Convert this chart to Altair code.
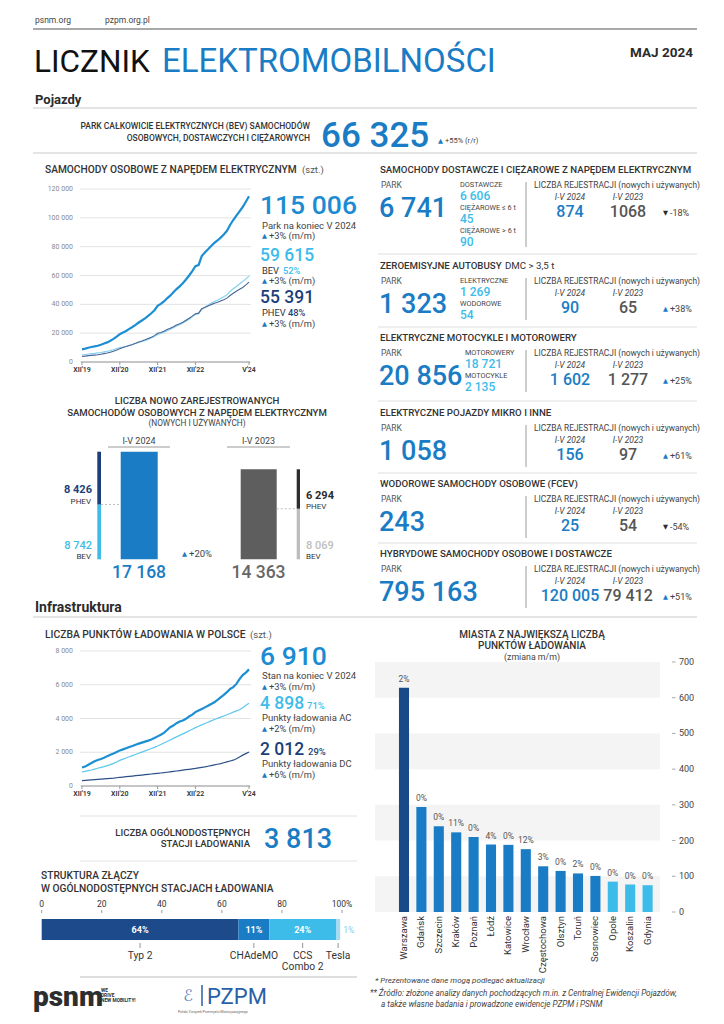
import altair as alt
import pandas as pd

# ---------------- DATA ----------------
ev_total = [8800,
            9300, 9900, 10400, 10800, 11300, 12000, 12800, 13600, 14700, 16000, 17600, 19300,
            20400, 21500, 23000, 24300, 25800, 27400, 28800, 30300, 32000, 33800, 35900, 38900,
            40300, 42000, 44200, 46000, 48300, 50600, 52500, 54600, 57200, 60000, 63100, 66500,
            67200, 73500, 76000, 78200, 80500, 82600, 84300, 86300, 88500, 91000, 95000, 98500,
            101500, 104500, 107500, 111200, 115006]
ev_bev = [4900,
          5200, 5500, 5800, 6000, 6300, 6600, 7000, 7400, 7900, 8500, 9300, 10100,
          10300, 10800, 11500, 12100, 12800, 13500, 14200, 14900, 15700, 16600, 17600, 19000,
          19800, 20600, 21700, 22600, 23800, 24900, 25900, 27000, 28300, 29700, 31300, 33000,
          33300, 36600, 38200, 39400, 40700, 41900, 42900, 44000, 45300, 46700, 48900, 50800,
          52400, 54100, 55800, 57700, 59615]
ev_phev = [3900,
           4100, 4400, 4600, 4800, 5000, 5400, 5800, 6200, 6800, 7500, 8300, 9200,
           10100, 10700, 11500, 12200, 13000, 13900, 14600, 15400, 16300, 17200, 18300, 19900,
           20500, 21400, 22500, 23400, 24500, 25700, 26600, 27600, 28900, 30300, 31800, 33500,
           33900, 36900, 37800, 38800, 39800, 40700, 41400, 42300, 43200, 44300, 46100, 47700,
           49100, 50400, 51700, 53500, 55391]
ev_ticks = [0, 20000, 40000, 60000, 80000, 100000, 120000]
month_tick_pos = [0, 12, 24, 36, 53]
month_tick_labels = ["XII'19", "XII'20", "XII'21", "XII'22", "V'24"]

cp_total = [1100,
            1150, 1260, 1360, 1460, 1540, 1600, 1670, 1770, 1850, 1920, 2010, 2110,
            2170, 2240, 2310, 2370, 2440, 2510, 2570, 2630, 2690, 2760, 2840, 2940,
            3040, 3150, 3320, 3480, 3580, 3720, 3820, 3880, 3980, 4120, 4230, 4380,
            4470, 4560, 4660, 4760, 4860, 4960, 5100, 5250, 5400, 5560, 5750, 5860,
            6050, 6330, 6570, 6720, 6910]
cp_ac = [830,
         870, 910, 950, 1000, 1050, 1100, 1150, 1210, 1270, 1340, 1420, 1520,
         1590, 1660, 1730, 1800, 1870, 1940, 2010, 2080, 2150, 2220, 2290, 2370,
         2460, 2550, 2640, 2730, 2820, 2910, 3000, 3090, 3180, 3270, 3360, 3460,
         3540, 3620, 3700, 3780, 3860, 3940, 4010, 4080, 4150, 4220, 4300, 4380,
         4450, 4520, 4640, 4780, 4898]
cp_dc = [320,
         335, 350, 365, 380, 395, 410, 425, 440, 455, 470, 490, 510,
         530, 550, 570, 590, 610, 630, 650, 670, 690, 710, 730, 750,
         770, 790, 815, 840, 865, 890, 915, 940, 965, 990, 1015, 1040,
         1070, 1100, 1130, 1170, 1210, 1250, 1290, 1330, 1380, 1430, 1480, 1530,
         1610, 1720, 1830, 1920, 2012]
cp_ticks = [0, 2000, 4000, 6000, 8000]

reg_years = ["I-V 2024", "I-V 2023"]
reg_bev = [8742, 8069]
reg_phev = [8426, 6294]
reg_total = [17168, 14363]
reg_growth = "+20%"

cities = ["Warszawa", "Gdańsk", "Szczecin", "Kraków", "Poznań", "Łódź", "Katowice",
          "Wrocław", "Częstochowa", "Olsztyn", "Toruń", "Sosnowiec", "Opole", "Koszalin", "Gdynia"]
city_points = [628, 294, 240, 223, 210, 189, 188, 176, 128, 115, 108, 101, 85, 77, 75]
city_change = ["2%", "0%", "0%", "11%", "0%", "4%", "0%", "12%", "3%", "0%", "2%", "0%", "0%", "0%", "0%"]
city_ticks = [0, 100, 200, 300, 400, 500, 600, 700]

conn_names = ["Typ 2", "CHAdeMO", "CCS\nCombo 2", "Tesla"]
conn_share = [65.5, 10.3, 22.2, 1.4]
conn_labels = ["64%", "11%", "24%", "1%"]
conn_ticks = [0, 20, 40, 60, 80, 100]
conn_tick_labels = ["0", "20", "40", "60", "80", "100%"]

bev_park = "66 325"
bev_park_change = "+55% (r/r)"
ev_shares = ["52%", "48%"]
ev_changes = ["+3% (m/m)", "+3% (m/m)", "+3% (m/m)"]
cp_shares = ["71%", "29%"]
cp_changes = ["+3% (m/m)", "+2% (m/m)", "+6% (m/m)"]
public_stations = "3 813"

sec_titles = ["SAMOCHODY DOSTAWCZE I CIĘŻAROWE Z NAPĘDEM ELEKTRYCZNYM", "ZEROEMISYJNE AUTOBUSY",
              "ELEKTRYCZNE MOTOCYKLE I MOTOROWERY", "ELEKTRYCZNE POJAZDY MIKRO I INNE",
              "WODOROWE SAMOCHODY OSOBOWE (FCEV)", "HYBRYDOWE SAMOCHODY OSOBOWE I DOSTAWCZE"]
sec_park = ["6 741", "1 323", "20 856", "1 058", "243", "795 163"]
sec_sub = [[("DOSTAWCZE", "6 606"), ("CIĘŻAROWE ≤ 6 t", "45"), ("CIĘŻAROWE > 6 t", "90")],
           [("ELEKTRYCZNE", "1 269"), ("WODOROWE", "54")],
           [("MOTOROWERY", "18 721"), ("MOTOCYKLE", "2 135")], [], [], []]
reg_2024 = ["874", "90", "1 602", "156", "25", "120 005"]
reg_2023 = ["1068", "65", "1 277", "97", "54", "79 412"]
reg_chg = ["-18%", "+38%", "+25%", "+61%", "-54%", "+51%"]

# ---------------- STYLE / LAYOUT ----------------
OFF = 8
W, H = 708, 1008
F = "Roboto"
BLUE = "#1a7cc4"
BLUE2 = "#1c8bd2"
CYAN = "#3dbcea"
NAVY = "#1c3f7a"
DARK = "#2b2b2b"
LG = "#c9c9c9"

ONE = pd.DataFrame({"k": [0]})
L = []


def px(v):
    return v - OFF


def fmt(n):
    return f"{n:,}".replace(",", " ")


def txt(s, x, y, size=9, color=DARK, weight=400, align="left", baseline="middle", style=None, font=F):
    kw = dict(text=s, fontSize=size, color=color, fontWeight=weight, align=align,
              baseline=baseline, font=font)
    if style:
        kw["fontStyle"] = style
    L.append(alt.Chart(ONE).mark_text(**kw).encode(x=alt.value(px(x)), y=alt.value(px(y))))


def rule(x1, x2, y1, y2=None, color=LG, width=1.0, dash=None):
    kw = dict(color=color, strokeWidth=width)
    if dash:
        kw["strokeDash"] = dash
    L.append(alt.Chart(ONE).mark_rule(**kw).encode(
        x=alt.value(px(x1)), x2=alt.value(px(x2)),
        y=alt.value(px(y1)), y2=alt.value(px(y1 if y2 is None else y2))))


def change(s, x, y, size=8.5):
    up = s.startswith("+")
    txt("▲" if up else "▼", x, y, size=6.5, color=BLUE if up else DARK, font="DejaVu Sans")
    txt(s, x + 7, y, size=size, color="#444")


def line_panel(series, colors, widths, ydom, y0, y1, ticks):
    n = len(series[0])
    df = pd.DataFrame({"m": list(range(n))})
    for i, s in enumerate(series):
        df[f"s{i}"] = s
    xs = alt.Scale(domain=[0, n - 1], range=[px(82), px(249)], nice=False, zero=False)
    ys = alt.Scale(domain=ydom, range=[px(y0), px(y1)], nice=False, zero=True)
    tdf = pd.DataFrame({"t": ticks, "lab": [fmt(t) for t in ticks]})
    xdf = pd.DataFrame({"m": month_tick_pos, "lab": month_tick_labels})
    layers = [
        alt.Chart(tdf).mark_rule(color="#e3e3e3", strokeWidth=1).encode(
            y=alt.Y("t:Q", scale=ys, axis=None), x=alt.value(px(80)), x2=alt.value(px(251))),
        alt.Chart(tdf).mark_text(align="right", baseline="middle", fontSize=7, color="#8a8a8a", font=F).encode(
            y=alt.Y("t:Q", scale=ys, axis=None), x=alt.value(px(73)), text="lab:N"),
        alt.Chart(ONE).mark_rule(color="#9a9a9a", strokeWidth=1).encode(
            x=alt.value(px(81)), x2=alt.value(px(250)), y=alt.value(px(y0))),
        alt.Chart(xdf).mark_rule(color="#9a9a9a", strokeWidth=1).encode(
            x=alt.X("m:Q", scale=xs, axis=None), y=alt.value(px(y0)), y2=alt.value(px(y0 + 3))),
        alt.Chart(xdf).mark_text(baseline="top", fontSize=7, fontWeight=600, color="#333", font=F).encode(
            x=alt.X("m:Q", scale=xs, axis=None), y=alt.value(px(y0 + 4)), text="lab:N"),
    ]
    for i, (c, w) in enumerate(zip(colors, widths)):
        layers.append(alt.Chart(df).mark_line(color=c, strokeWidth=w).encode(
            x=alt.X("m:Q", scale=xs, axis=None),
            y=alt.Y(f"s{i}:Q", scale=ys, axis=None)))
    return alt.layer(*layers)


# ---------------- HEADER ----------------
txt("psnm.org", 35, 20, size=8.5, color="#444")
txt("pzpm.org.pl", 105, 20, size=8.5, color="#444")
rule(33, 697, 29, color="#555", width=1.2)
txt("LICZNIK", 34, 72, size=31.5, color="#111", weight=400, baseline="alphabetic")
txt("ELEKTROMOBILNOŚCI", 162, 72, size=33, color=BLUE, weight=400, baseline="alphabetic")
txt("MAJ 2024", 693, 53, size=13.5, color=DARK, weight=700, align="right")
txt("Pojazdy", 35, 100, size=13, color=DARK, weight=700)
rule(33, 697, 108)
txt("PARK CAŁKOWICIE ELEKTRYCZNYCH (BEV) SAMOCHODÓW", 310, 126, size=8.5, color="#333", weight=500, align="right")
txt("OSOBOWYCH, DOSTAWCZYCH I CIĘŻAROWYCH", 310, 138, size=8.5, color="#333", weight=500, align="right")
txt(bev_park, 321, 147, size=35, color=BLUE, weight=500, baseline="alphabetic")
change(bev_park_change, 438, 141, size=7.5)
rule(33, 697, 153)

# ---------------- PASSENGER EV LINE CHART ----------------
txt("SAMOCHODY OSOBOWE Z NAPĘDEM ELEKTRYCZNYM", 45, 170, size=10.2, color="#333", weight=500)
txt("(szt.)", 302, 170, size=9.5, color="#555")
L.append(line_panel([ev_bev, ev_phev, ev_total], ["#7fd0f0", "#4a6596", "#1c8fd3"], [1.1, 1.1, 2.2],
                    [0, 120000], 362, 189, ev_ticks))
txt(fmt(ev_total[-1]), 260, 214, size=26.5, color=BLUE2, weight=500, baseline="alphabetic")
txt("Park na koniec V 2024", 262, 225.5, size=9.5, color="#444")
change(ev_changes[0], 262, 236, size=9.3)
txt(fmt(ev_bev[-1]), 260, 261, size=17.5, color=CYAN, weight=500, baseline="alphabetic")
txt("BEV", 262, 270.5, size=9.3, color="#333")
txt(ev_shares[0], 283, 270.5, size=9.3, color=CYAN, weight=500)
change(ev_changes[1], 262, 281, size=9.3)
txt(fmt(ev_phev[-1]), 260, 303, size=17.5, color=NAVY, weight=500, baseline="alphabetic")
txt("PHEV", 262, 313, size=9.3, color="#333")
txt(ev_shares[1], 288, 313, size=9.3, color=NAVY, weight=500)
change(ev_changes[2], 262, 324, size=9.3)

# ---------------- NEW REGISTRATIONS ----------------
txt("LICZBA NOWO ZAREJESTROWANYCH", 197, 401, size=9.6, color="#333", weight=500, align="center")
txt("SAMOCHODÓW OSOBOWYCH Z NAPĘDEM ELEKTRYCZNYM", 197, 412.5, size=9.6, color="#333", weight=500, align="center")
txt("(NOWYCH I UŻYWANYCH)", 197, 423.5, size=8.3, color="#444", align="center")
big_x = [(120.7, 157.7), (240.7, 276.7)]
thin_x = [(97.3, 101), (296.7, 300)]
dash_x = [(101, 120.7), (276.7, 296.7)]
big_col = [BLUE, "#5e5e5e"]
bev_col = [CYAN, "#bdbdbd"]
phev_col = [NAVY, "#2d2d2d"]
head_x = [139, 258.5]
rys = alt.Scale(domain=[0, max(reg_total)], range=[px(559.3), px(451.7)], nice=False, zero=True)
reg_layers = []
for i in range(2):
    d = pd.DataFrame({"tot": [reg_total[i]], "bev": [reg_bev[i]], "top": [reg_bev[i] + reg_phev[i]], "z": [0]})
    ch = alt.Chart(d)
    reg_layers.append(ch.mark_rect(color=big_col[i]).encode(
        y=alt.Y("tot:Q", scale=rys, axis=None), y2="z:Q",
        x=alt.value(px(big_x[i][0])), x2=alt.value(px(big_x[i][1]))))
    reg_layers.append(ch.mark_rect(color=bev_col[i]).encode(
        y=alt.Y("bev:Q", scale=rys, axis=None), y2="z:Q",
        x=alt.value(px(thin_x[i][0])), x2=alt.value(px(thin_x[i][1]))))
    reg_layers.append(ch.mark_rect(color=phev_col[i]).encode(
        y=alt.Y("top:Q", scale=rys, axis=None), y2="bev:Q",
        x=alt.value(px(thin_x[i][0])), x2=alt.value(px(thin_x[i][1]))))
    reg_layers.append(ch.mark_rule(color="#b0b0b0", strokeDash=[2, 2], strokeWidth=0.8).encode(
        y=alt.Y("bev:Q", scale=rys, axis=None),
        x=alt.value(px(dash_x[i][0])), x2=alt.value(px(dash_x[i][1]))))
L.append(alt.layer(*reg_layers))
for i in range(2):
    txt(reg_years[i], head_x[i], 441, size=9, color="#444", align="center")
rule(108, 170, 447, color="#9a9a9a")
rule(227, 290, 447, color="#9a9a9a")
txt(fmt(reg_phev[0]), 92, 490, size=11, color=NAVY, weight=700, align="right")
txt("PHEV", 91, 501.5, size=8, color="#333", align="right")
txt(fmt(reg_bev[0]), 92, 545.5, size=11, color=CYAN, weight=500, align="right")
txt("BEV", 91, 556.5, size=8, color="#333", align="right")
txt(fmt(reg_phev[1]), 306, 495.5, size=11, color=DARK, weight=700)
txt("PHEV", 306, 507, size=8, color="#333")
txt(fmt(reg_bev[1]), 306, 546, size=11, color="#bdbdbd", weight=500)
txt("BEV", 306, 557, size=8, color="#333")
change(reg_growth, 182, 554, size=9.5)
txt(fmt(reg_total[0]), head_x[0], 578, size=17.5, color=BLUE, weight=500, align="center", baseline="alphabetic")
txt(fmt(reg_total[1]), head_x[1], 578, size=17.5, color="#666", weight=500, align="center", baseline="alphabetic")

# ---------------- RIGHT COLUMN SECTIONS ----------------
sec_top = [170, 266, 338, 413, 484, 554]
sec_sub_x = [460, 460, 465, 460, 460, 460]
for i, t in enumerate(sec_top):
    txt(sec_titles[i], 380, t, size=9.7, color="#333", weight=500)
    if i == 1:
        txt("DMC > 3,5 t", 505, t, size=9.7, color="#333")
    txt("PARK", 381, t + 15, size=8.5, color="#555")
    txt(sec_park[i], 379, t + 47, size=27, color=BLUE, weight=500, baseline="alphabetic")
    for j, (lab, val) in enumerate(sec_sub[i]):
        txt(lab, sec_sub_x[i], t + 15 + 23 * j, size=7.3, color="#444")
        txt(val, sec_sub_x[i], t + 26 + 23 * j, size=12, color=CYAN, weight=500)
    rule(526, 526, t + 12, t + (77 if i == 0 else 54), color="#9a9a9a")
    txt("LICZBA REJESTRACJI (nowych i używanych)", 534, t + 15, size=8.4, color="#444")
    txt("I-V 2024", 570, t + 27, size=8.5, color="#444", align="center", style="italic")
    txt("I-V 2023", 628, t + 27, size=8.5, color="#444", align="center", style="italic")
    txt(reg_2024[i], 570, t + 47, size=16, color=BLUE, weight=500, align="center", baseline="alphabetic")
    txt(reg_2023[i], 628, t + 47, size=16, color="#555", weight=500, align="center", baseline="alphabetic")
    change(reg_chg[i], 663, t + 43, size=9)
for y in [254, 327, 401, 473, 543]:
    rule(378, 697, y, color="#dedede")

# ---------------- INFRASTRUKTURA ----------------
txt("Infrastruktura", 35, 608, size=14, color=DARK, weight=700)
rule(33, 697, 617)
txt("LICZBA PUNKTÓW ŁADOWANIA W POLSCE", 45, 635, size=10.3, color="#333", weight=500)
txt("(szt.)", 250, 635, size=9.5, color="#555")
L.append(line_panel([cp_ac, cp_dc, cp_total], ["#5cc8ef", "#2c4f88", "#1c8fd3"], [1.2, 1.2, 2.2],
                    [0, 8000], 786, 651, cp_ticks))
txt(fmt(cp_total[-1]), 260, 664.5, size=26.5, color=BLUE2, weight=500, baseline="alphabetic")
txt("Stan na koniec V 2024", 262, 676, size=9.5, color="#444")
change(cp_changes[0], 262, 687, size=9.3)
txt(fmt(cp_ac[-1]), 260, 708.5, size=17.5, color=CYAN, weight=500, baseline="alphabetic")
txt(cp_shares[0], 307, 708.5, size=9.5, color=CYAN, weight=500, baseline="alphabetic")
txt("Punkty ładowania AC", 262, 718, size=9.5, color="#444")
change(cp_changes[1], 262, 728.5, size=9.3)
txt(fmt(cp_dc[-1]), 260, 754.5, size=17.5, color=NAVY, weight=500, baseline="alphabetic")
txt(cp_shares[1], 308, 754.5, size=9.5, color=NAVY, weight=500, baseline="alphabetic")
txt("Punkty ładowania DC", 262, 764, size=9.5, color="#444")
change(cp_changes[2], 262, 774.5, size=9.3)

rule(80, 357, 816, color="#e2e2e2")
txt("LICZBA OGÓLNODOSTĘPNYCH", 250, 833, size=9.6, color="#333", weight=500, align="right")
txt("STACJI ŁADOWANIA", 250, 844, size=9.6, color="#333", weight=500, align="right")
txt(public_stations, 264, 848, size=27, color=BLUE, weight=500, baseline="alphabetic")
rule(80, 357, 861, color="#e2e2e2")

# ---------------- CONNECTORS ----------------
txt("STRUKTURA ZŁĄCZY", 41, 876, size=10.2, color="#333", weight=500)
txt("W OGÓLNODOSTĘPNYCH STACJACH ŁADOWANIA", 41, 889, size=10.2, color="#333", weight=500)
cdf = pd.DataFrame({"name": conn_names, "share": conn_share, "label": conn_labels})
cdf["end"] = cdf["share"].cumsum()
cdf["start"] = cdf["end"] - cdf["share"]
cdf["mid"] = (cdf["start"] + cdf["end"]) / 2
ctk = pd.DataFrame({"t": conn_ticks, "lab": conn_tick_labels})
conn_colors = ["#1d4a8a", "#1a7cc4", "#3dbcea", "#a6dcf3"]
cxs = alt.Scale(domain=[0, 100], range=[px(41.7), px(342)], nice=False, zero=True)
cbase = alt.Chart(cdf)
conn_layers = [
    alt.Chart(ctk).mark_text(baseline="bottom", fontSize=8.5, color="#333", font=F).encode(
        x=alt.X("t:Q", scale=cxs, axis=None), y=alt.value(px(909)), text="lab:N"),
    alt.Chart(ctk).mark_rule(color="#999").encode(
        x=alt.X("t:Q", scale=cxs, axis=None), y=alt.value(px(910)), y2=alt.value(px(913))),
    cbase.mark_rect().encode(
        x=alt.X("start:Q", scale=cxs, axis=None), x2="end:Q",
        y=alt.value(px(919)), y2=alt.value(px(940)),
        color=alt.Color("name:N", scale=alt.Scale(domain=conn_names, range=conn_colors), legend=None)),
    cbase.transform_filter(alt.datum.share > 5).mark_text(color="white", fontSize=9, fontWeight=700, font=F).encode(
        x=alt.X("mid:Q", scale=cxs, axis=None), y=alt.value(px(929.5)), text="label:N"),
    cbase.transform_filter(alt.datum.share <= 5).mark_text(color="#7fd0f0", fontSize=8.5, font=F, align="left", dx=3).encode(
        x=alt.X("end:Q", scale=cxs, axis=None), y=alt.value(px(929.5)), text="label:N"),
    cbase.mark_rule(color="#777", strokeWidth=0.8).encode(
        x=alt.X("mid:Q", scale=cxs, axis=None), y=alt.value(px(943)), y2=alt.value(px(948))),
    cbase.mark_text(color="#333", fontSize=10.3, font=F, lineBreak="\n", baseline="top", lineHeight=11).encode(
        x=alt.X("mid:Q", scale=cxs, axis=None), y=alt.value(px(951)), text="name:N"),
]
L.append(alt.layer(*conn_layers))
rule(80, 357, 977, color="#bdbdbd")

# ---------------- CITIES ----------------
txt("MIASTA Z NAJWIĘKSZĄ LICZBĄ", 532, 635, size=10, color="#333", weight=500, align="center")
txt("PUNKTÓW ŁADOWANIA", 532, 646, size=10, color="#333", weight=500, align="center")
txt("(zmiana m/m)", 532, 657, size=8.8, color="#444", align="center")
city_colors = ["#174a87"] + ["#1a7cc4"] * 11 + ["#3dbcea"] * 3
ctdf = pd.DataFrame({"city": cities, "n": city_points, "chg": city_change})
cty_x = alt.Scale(type="band", domain=cities, range=[px(395.3), px(656.3)], paddingInner=0.42, paddingOuter=0.21)
cty_y = alt.Scale(domain=[0, 700], range=[px(912), px(662)], nice=False, zero=True)
cytk = pd.DataFrame({"t": city_ticks, "lab": [str(t) for t in city_ticks]})
bands = alt.Chart(pd.DataFrame({"lo": city_ticks[:-1:2], "hi": city_ticks[1::2]})).mark_rect(color="#f4f4f4").encode(
    y=alt.Y("lo:Q", scale=cty_y, axis=None), y2="hi:Q",
    x=alt.value(px(375)), x2=alt.value(px(660)))
cyticks = alt.Chart(cytk).mark_rule(color="#aaa").encode(
    y=alt.Y("t:Q", scale=cty_y, axis=None), x=alt.value(px(672)), x2=alt.value(px(675.5)))
cylabs = alt.Chart(cytk).mark_text(align="left", baseline="middle", fontSize=9, color="#444", font=F).encode(
    y=alt.Y("t:Q", scale=cty_y, axis=None), x=alt.value(px(679)), text="lab:N")
cbars = alt.Chart(ctdf).mark_bar().encode(
    x=alt.X("city:N", scale=cty_x, axis=None, sort=cities),
    y=alt.Y("n:Q", scale=cty_y, axis=None),
    color=alt.Color("city:N", scale=alt.Scale(domain=cities, range=city_colors), legend=None))
clabels = alt.Chart(ctdf).mark_text(dy=-4, baseline="bottom", fontSize=8.5, color="#555", font=F).encode(
    x=alt.X("city:N", scale=cty_x, axis=None, sort=cities),
    y=alt.Y("n:Q", scale=cty_y, axis=None), text="chg:N")
cnames = alt.Chart(ctdf).mark_text(angle=270, align="right", baseline="middle", fontSize=9.5, color="#333", font=F).encode(
    x=alt.X("city:N", scale=cty_x, axis=None, sort=cities), y=alt.value(px(916)), text="city:N")
L.append(alt.layer(bands, cyticks, cylabs, cbars, clabels, cnames))

# ---------------- FOOTER ----------------
txt("psnm", 33, 1006, size=28, color="#2d2d2d", weight=900, baseline="alphabetic")
txt("WE", 101, 991, size=4.8, color="#2d2d2d", weight=700)
txt("DRIVE", 101, 996, size=4.8, color="#2d2d2d", weight=700)
txt("NEW MOBILITY!", 101, 1001, size=4.8, color="#2d2d2d", weight=700)
txt("ℰ", 188, 996, size=16, color="#6a8cc0", align="center", font="DejaVu Sans")
rule(202, 202, 985, 1006, color="#2a5fa8", width=1.5)
txt("PZPM", 207, 1004, size=22, color="#2a5fa8", weight=400, baseline="alphabetic")
txt("Polski Związek Przemysłu Motoryzacyjnego", 178, 1012, size=3.6, color="#666")
txt("* Prezentowane dane mogą podlegać aktualizacji", 375, 981, size=8, color="#444", style="italic")
txt("** Źródło: złożone analizy danych pochodzących m.in. z Centralnej Ewidencji Pojazdów,", 370, 994,
    size=8.2, color="#444", style="italic")
txt("a także własne badania i prowadzone ewidencje PZPM i PSNM", 381, 1005, size=8.2, color="#444", style="italic")

chart = alt.layer(*L).resolve_scale(
    x="independent", y="independent", color="independent"
).properties(
    width=W, height=H, autosize=alt.AutoSizeParams(type="none"), padding=0
).configure_view(stroke=None)

chart.save("out.html", embed_options={"renderer": "svg", "actions": False})
